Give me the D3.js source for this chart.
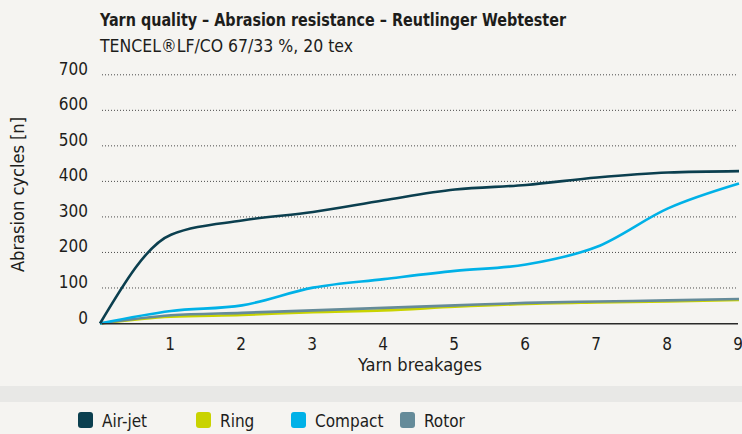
<!DOCTYPE html>
<html lang="en">
<head>
<meta charset="UTF-8">
<title>Yarn quality</title>
<script src="https://d3js.org/d3.v7.min.js"></script>
<style>
  html, body { margin: 0; padding: 0; background: #f5f4f1; }
  svg { display: block; }
  text { font-family: "Liberation Sans Narrow", "DejaVu Sans Condensed", Roboto, sans-serif; fill: #1d1d1b; }
</style>
</head>
<body>
<svg width="742" height="434"></svg>
<script>
  // data
  let breakages = [0, 1, 2, 3, 4, 5, 6, 7, 8, 9]
  let airjet  = [0, 250, 290, 314, 347, 377, 390, 411, 425, 429]
  let ring    = [0, 19, 24, 32, 37, 47, 55, 59, 62, 66]
  let compact = [0, 35, 51, 101, 125, 148, 166, 216, 324, 394]
  let rotor   = [0, 23, 30, 37, 44, 51, 58, 62, 65, 69]
  let yTicks = [0, 100, 200, 300, 400, 500, 600, 700]
  let xTicks = [1, 2, 3, 4, 5, 6, 7, 8, 9]

  let seriesNames = ['Air-jet', 'Ring', 'Compact', 'Rotor']
  let colors = ['#0b3f4f', '#c9d300', '#00b1e7', '#658b99']

  let svg = d3.select('svg')

  let x = d3.scaleLinear().domain([0, 9]).range([100, 739])
  let y = d3.scaleLinear().domain([0, 700]).range([323.5, 74.8])

  // grey band above legend
  svg.append('rect').attr('x', 0).attr('y', 386).attr('width', 742).attr('height', 16).attr('fill', '#e8e8e6')

  // titles
  svg.append('text').attr('x', 100).attr('y', 26)
    .style('font-size', '17px').style('font-weight', 'bold')
    .attr('textLength', 466).attr('lengthAdjust', 'spacingAndGlyphs')
    .text('Yarn quality – Abrasion resistance – Reutlinger Webtester')
  svg.append('text').attr('x', 100).attr('y', 52)
    .style('font-size', '17px')
    .attr('textLength', 253).attr('lengthAdjust', 'spacingAndGlyphs')
    .text('TENCEL®LF/CO 67/33 %, 20 tex')

  // dotted gridlines
  svg.append('g').selectAll('line')
    .data(yTicks.filter(d => d > 0))
    .join('line')
    .attr('x1', 102).attr('x2', 736)
    .attr('y1', d => y(d)).attr('y2', d => y(d))
    .attr('stroke', '#4a4a4a').attr('stroke-width', 1)
    .attr('stroke-dasharray', '1,2')

  // y tick labels
  svg.append('g').selectAll('text')
    .data(yTicks)
    .join('text')
    .attr('x', 88).attr('y', d => y(d))
    .attr('text-anchor', 'end')
    .style('font-size', '17px')
    .text(d => d)

  // y axis title
  svg.append('text')
    .attr('transform', 'translate(24,194.5) rotate(-90)')
    .attr('text-anchor', 'middle')
    .style('font-size', '17px')
    .attr('textLength', 155).attr('lengthAdjust', 'spacingAndGlyphs')
    .text('Abrasion cycles [n]')

  // x tick labels
  svg.append('g').selectAll('text')
    .data(xTicks)
    .join('text')
    .attr('x', d => x(d) - 1).attr('y', 350)
    .attr('text-anchor', 'middle')
    .style('font-size', '17px')
    .text(d => d)

  svg.append('text').attr('x', 420).attr('y', 371)
    .attr('text-anchor', 'middle')
    .style('font-size', '17px')
    .attr('textLength', 124).attr('lengthAdjust', 'spacingAndGlyphs')
    .text('Yarn breakages')

  // lines
  let line = d3.line()
    .x((d, i) => x(breakages[i]))
    .y(d => y(d))
    .curve(d3.curveMonotoneX)

  let drawOrder = [[ring, 1], [rotor, 3], [compact, 2], [airjet, 0]]
  svg.append('g').selectAll('path')
    .data(drawOrder)
    .join('path')
    .attr('d', d => line(d[0]))
    .attr('fill', 'none')
    .attr('stroke', d => colors[d[1]])
    .attr('stroke-width', 2.6)

  // x axis line
  svg.append('line')
    .attr('x1', 102).attr('x2', 738)
    .attr('y1', 323.8).attr('y2', 323.8)
    .attr('stroke', '#2a2a2a').attr('stroke-width', 1.5)

  // legend
  let legendX = [78, 196, 291, 400]
  let lg = svg.append('g').selectAll('g')
    .data(seriesNames)
    .join('g')
    .attr('transform', (d, i) => 'translate(' + legendX[i] + ',412)')
  lg.append('rect')
    .attr('width', 15).attr('height', 16).attr('rx', 3)
    .attr('fill', (d, i) => colors[i])
  lg.append('text')
    .attr('x', 24).attr('y', 15)
    .style('font-size', '17px')
    .text(d => d)
</script>
</body>
</html>
